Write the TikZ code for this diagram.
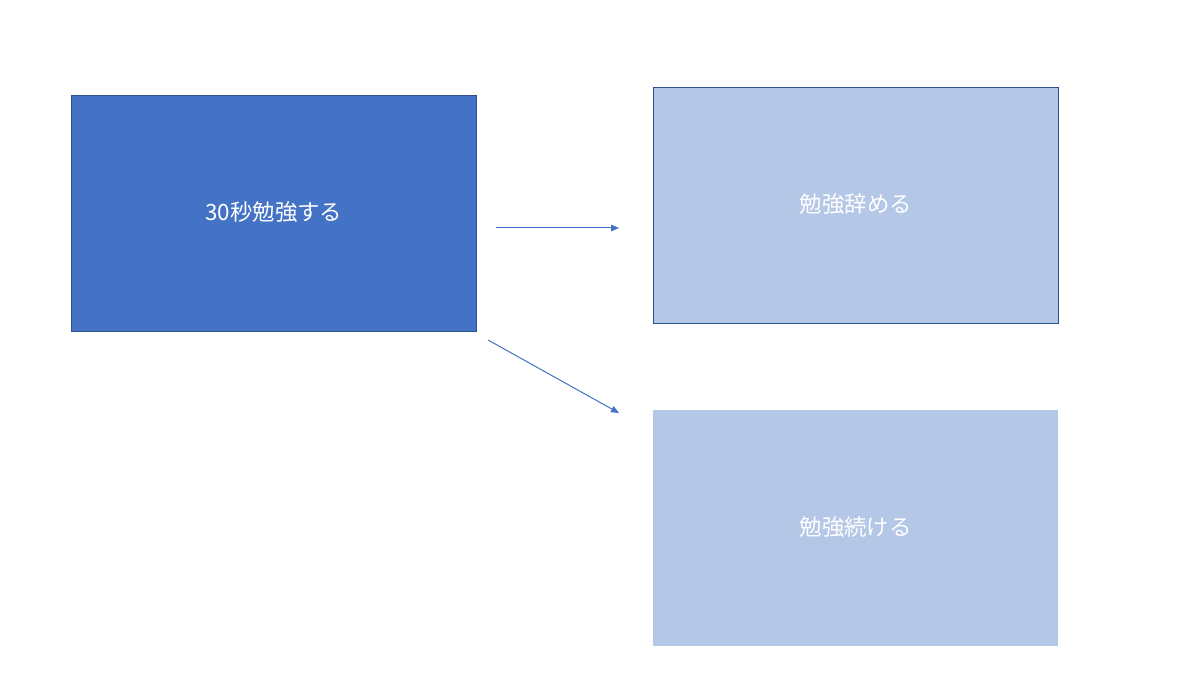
\documentclass[tikz,border=0pt]{standalone}
\usepackage{fontspec}
\newfontfamily\cjk{Noto Sans CJK JP}
\usetikzlibrary{arrows.meta}
\definecolor{darkfill}{HTML}{4472C4}
\definecolor{lightfill}{HTML}{B4C7E7}
\definecolor{edgeblue}{HTML}{2F528F}
\definecolor{arrowblue}{HTML}{4472C4}
\newcommand{\boxtext}[1]{\raisebox{3.2pt}{#1}}
\tikzset{
  box/.style={minimum width=405*0.75pt, minimum height=236*0.75pt, inner sep=0pt, anchor=north west,
    text=white, font=\cjk\fontsize{16.8pt}{19pt}\selectfont},
  darkbox/.style={box, fill=darkfill, draw=edgeblue, line width=0.6pt},
  lightbox/.style={box, fill=lightfill},
  lightboxedge/.style={box, fill=lightfill, draw=edgeblue, line width=0.6pt},
  conn/.style={draw=arrowblue, line width=0.75pt, -{Triangle[length=6pt,width=5pt]}},
}
\begin{document}
\begin{tikzpicture}[x=0.75pt,y=-0.75pt]
\useasboundingbox (0,0) rectangle (1200,673);
\node[darkbox] (start) at (71,95) {\boxtext{30秒勉強する}};
\node[lightboxedge] (quit) at (653,87) {\boxtext{勉強辞める}};
\node[lightbox] (cont) at (653,410) {\boxtext{勉強続ける}};
\coordinate (a1s) at (496,228);
\coordinate (a1e) at (619,228);
\coordinate (a2s) at (488,340);
\coordinate (a2e) at (619,413);
\draw[conn] (a1s) -- (a1e);
\draw[conn] (a2s) -- (a2e);
\end{tikzpicture}
\end{document}
